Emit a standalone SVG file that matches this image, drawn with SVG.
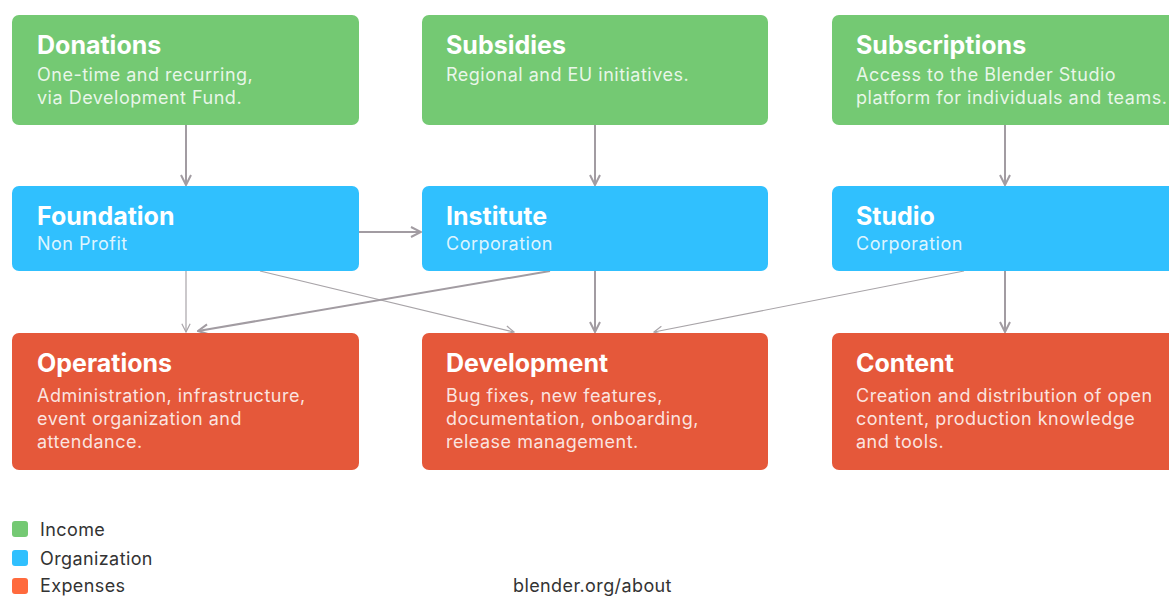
<svg xmlns="http://www.w3.org/2000/svg" width="1169" height="597" viewBox="0 0 1169 597">
  <defs>
    <style>
      .income { fill: #74c973; }
      .org { fill: #30c0fe; }
      .expense { fill: #e5583a; }
      .title { font-family: Inter, "Liberation Sans", sans-serif; font-weight: 700; font-size: 25px; fill: #ffffff; }
      .sub { font-family: Inter, "Liberation Sans", sans-serif; font-size: 18px; letter-spacing: 0.5px; fill: #ffffff; fill-opacity: 0.85; }
      .legend { font-family: Inter, "Liberation Sans", sans-serif; font-size: 18px; letter-spacing: 0.4px; fill: #333333; }
      .link { fill: none; stroke: #a29ca2; stroke-width: 2; }
      .thin { fill: none; stroke: #a8a4a8; stroke-width: 1.2; }
    </style>
    <marker id="arrow" viewBox="0 0 12 12" refX="11" refY="6" markerWidth="12" markerHeight="12" markerUnits="userSpaceOnUse" orient="auto">
      <path d="M1 1 L11 6 L1 11" fill="none" stroke="#a29ca2" stroke-width="2"/>
    </marker>
    <marker id="arrowThin" viewBox="0 0 12 12" refX="11" refY="6" markerWidth="10" markerHeight="10" markerUnits="userSpaceOnUse" orient="auto">
      <path d="M1 1 L11 6 L1 11" fill="none" stroke="#a8a4a8" stroke-width="1.4"/>
    </marker>
  </defs>

  <rect width="1169" height="597" fill="#ffffff"/>

  <!-- connectors -->
  <g id="connectors">
    <line class="link" x1="186" y1="125" x2="186" y2="185" marker-end="url(#arrow)"/>
    <line class="link" x1="595" y1="125" x2="595" y2="185" marker-end="url(#arrow)"/>
    <line class="link" x1="1005" y1="125" x2="1005" y2="185" marker-end="url(#arrow)"/>
    <line class="link" x1="359" y1="232" x2="421" y2="232" marker-end="url(#arrow)"/>
    <line class="thin" x1="186" y1="271" x2="186" y2="332" marker-end="url(#arrowThin)"/>
    <line class="thin" x1="260" y1="271" x2="514" y2="332" marker-end="url(#arrowThin)"/>
    <line class="link" x1="550" y1="271" x2="198" y2="331" marker-end="url(#arrow)"/>
    <line class="link" x1="595" y1="271" x2="595" y2="332" marker-end="url(#arrow)"/>
    <line class="thin" x1="964" y1="271" x2="654" y2="332" marker-end="url(#arrowThin)"/>
    <line class="link" x1="1005" y1="271" x2="1005" y2="332" marker-end="url(#arrow)"/>
  </g>

  <!-- income -->
  <g id="donations">
    <rect class="income" x="12" y="15" width="347" height="110" rx="7"/>
    <text class="title" x="37" y="54">Donations</text>
    <text class="sub" x="37" y="81">One-time and recurring,</text>
    <text class="sub" x="37" y="104">via Development Fund.</text>
  </g>
  <g id="subsidies">
    <rect class="income" x="422" y="15" width="346" height="110" rx="7"/>
    <text class="title" x="446" y="54">Subsidies</text>
    <text class="sub" x="446" y="81">Regional and EU initiatives.</text>
  </g>
  <g id="subscriptions">
    <rect class="income" x="832" y="15" width="347" height="110" rx="7"/>
    <text class="title" x="856" y="54">Subscriptions</text>
    <text class="sub" x="856" y="81">Access to the Blender Studio</text>
    <text class="sub" x="856" y="104">platform for individuals and teams.</text>
  </g>

  <!-- organization -->
  <g id="foundation">
    <rect class="org" x="12" y="186" width="347" height="85" rx="7"/>
    <text class="title" x="37" y="225">Foundation</text>
    <text class="sub" x="37" y="250">Non Profit</text>
  </g>
  <g id="institute">
    <rect class="org" x="422" y="186" width="346" height="85" rx="7"/>
    <text class="title" x="446" y="225">Institute</text>
    <text class="sub" x="446" y="250">Corporation</text>
  </g>
  <g id="studio">
    <rect class="org" x="832" y="186" width="347" height="85" rx="7"/>
    <text class="title" x="856" y="225">Studio</text>
    <text class="sub" x="856" y="250">Corporation</text>
  </g>

  <!-- expenses -->
  <g id="operations">
    <rect class="expense" x="12" y="333" width="347" height="137" rx="7"/>
    <text class="title" x="37" y="372">Operations</text>
    <text class="sub" x="37" y="402">Administration, infrastructure,</text>
    <text class="sub" x="37" y="425">event organization and</text>
    <text class="sub" x="37" y="448">attendance.</text>
  </g>
  <g id="development">
    <rect class="expense" x="422" y="333" width="346" height="137" rx="7"/>
    <text class="title" x="446" y="372">Development</text>
    <text class="sub" x="446" y="402">Bug fixes, new features,</text>
    <text class="sub" x="446" y="425">documentation, onboarding,</text>
    <text class="sub" x="446" y="448">release management.</text>
  </g>
  <g id="content">
    <rect class="expense" x="832" y="333" width="347" height="137" rx="7"/>
    <text class="title" x="856" y="372">Content</text>
    <text class="sub" x="856" y="402">Creation and distribution of open</text>
    <text class="sub" x="856" y="425">content, production knowledge</text>
    <text class="sub" x="856" y="448">and tools.</text>
  </g>

  <!-- legend -->
  <g id="legend">
    <rect x="12" y="521" width="16" height="16" rx="3" fill="#74c973"/>
    <text class="legend" x="40" y="536">Income</text>
    <rect x="12" y="550" width="16" height="16" rx="3" fill="#30c0fe"/>
    <text class="legend" x="40" y="565">Organization</text>
    <rect x="12" y="578" width="16" height="16" rx="3" fill="#ff6a3d"/>
    <text class="legend" x="40" y="592">Expenses</text>
    <text class="legend" x="513" y="592">blender.org/about</text>
  </g>
</svg>
